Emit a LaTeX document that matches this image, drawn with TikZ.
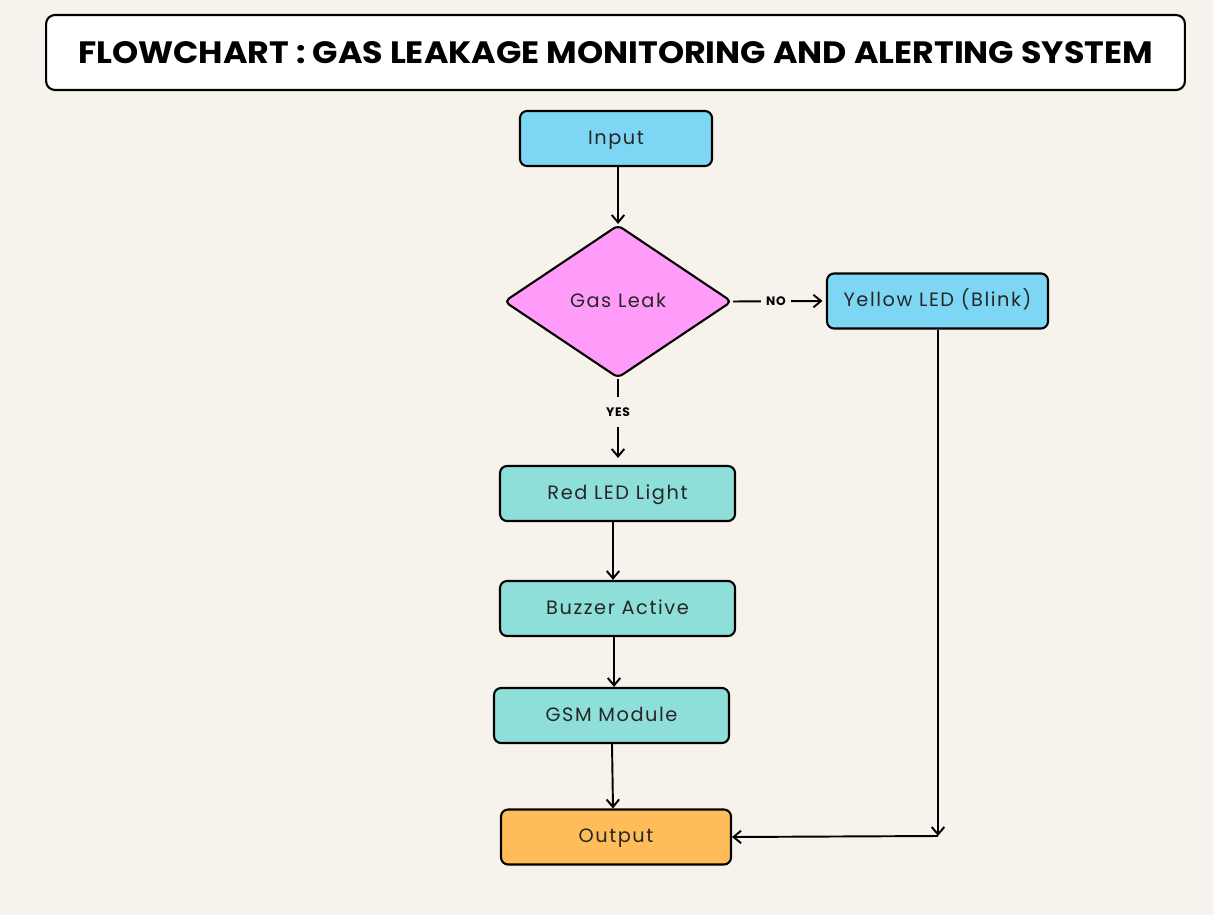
\documentclass[tikz,border=0pt]{standalone}
\usepackage{fontspec}
\setmainfont{Poppins}
\newfontfamily\nodefont[LetterSpace=8]{Poppins}
\newfontfamily\lblfont[LetterSpace=6]{Poppins}
\usetikzlibrary{shapes.geometric,arrows.meta}
\definecolor{bgc}{HTML}{F7F3EC}
\definecolor{blueb}{HTML}{7ED6F5}
\definecolor{pinkd}{HTML}{FF9CF9}
\definecolor{tealb}{HTML}{8EDEDA}
\definecolor{orangeb}{HTML}{FFBD59}
\tikzset{
  box/.style={draw=black, line width=1.2pt, rounded corners=4pt, minimum width=#1, minimum height=1.1cm, inner sep=0pt, text height=0.66em, text depth=0pt, font=\nodefont\fontsize{11}{13}\selectfont, text=black!85},
  box/.default=4.7cm,
  dec/.style={draw=black, line width=1.2pt, diamond, fill=pinkd, minimum width=4.56cm, minimum height=3.06cm, aspect=1.49, inner sep=0pt, rounded corners=3pt, text height=0.66em, text depth=0pt, font=\nodefont\fontsize{11}{13}\selectfont, text=black!85},
  conn/.style={line width=1.1pt, -{Straight Barb[length=1.5mm,width=2.5mm,line width=1.1pt]}},
  lbl/.style={font=\lblfont\bfseries\fontsize{7}{8}\selectfont, fill=bgc, inner sep=2pt},
}
\begin{document}
\begin{tikzpicture}[x=0.02cm,y=-0.02cm]
\fill[bgc] (0,0) rectangle (1213,915);
\useasboundingbox (0,0) rectangle (1213,915);
% title
\node[draw=black, fill=white, line width=1.2pt, rounded corners=5pt, minimum width=22.78cm, minimum height=1.5cm, inner sep=0pt] (title) at (615.5,52.5) {\resizebox{21.5cm}{0.44cm}{\bfseries FLOWCHART : GAS LEAKAGE MONITORING AND ALERTING SYSTEM}};
% nodes
\node[box=3.84cm, fill=blueb] (input) at (616,138.5) {Input};
\node[dec] (gas) at (618,301.5) {Gas Leak};
\node[box=4.42cm, fill=blueb] (yellow) at (937.5,301) {Yellow LED (Blink)};
\node[box=4.7cm, fill=tealb] (red) at (617.5,493.5) {Red LED Light};
\node[box=4.7cm, fill=tealb] (buzz) at (617.5,608.5) {Buzzer Active};
\node[box=4.7cm, fill=tealb] (gsm) at (611.5,715.5) {GSM Module};
\node[box=4.6cm, fill=orangeb] (out) at (616,837) {Output};
\coordinate (corner) at (938,836);
\coordinate (yesend) at (618,458);
% connectors
\draw[conn] (input.south -| gas.north) -- (gas.north);
\draw[conn] (gas.east) -- node[lbl, pos=0.48, inner xsep=3pt] {NO} ([xshift=-2pt]yellow.west);
\draw[conn] (gas.south) -- node[lbl, pos=0.42, inner ysep=6pt] {YES} (yesend);
\draw[conn] (red.south -| 613,0) -- (buzz.north -| 613,0);
\draw[conn] (buzz.south -| 614,0) -- (gsm.north -| 614,0);
\draw[conn] (gsm.south -| 612,0) -- (out.north -| 613,0);
\draw[conn] (yellow.south -| corner) -- (corner);
\draw[conn] (corner) -- (out.east);
\end{tikzpicture}
\end{document}
